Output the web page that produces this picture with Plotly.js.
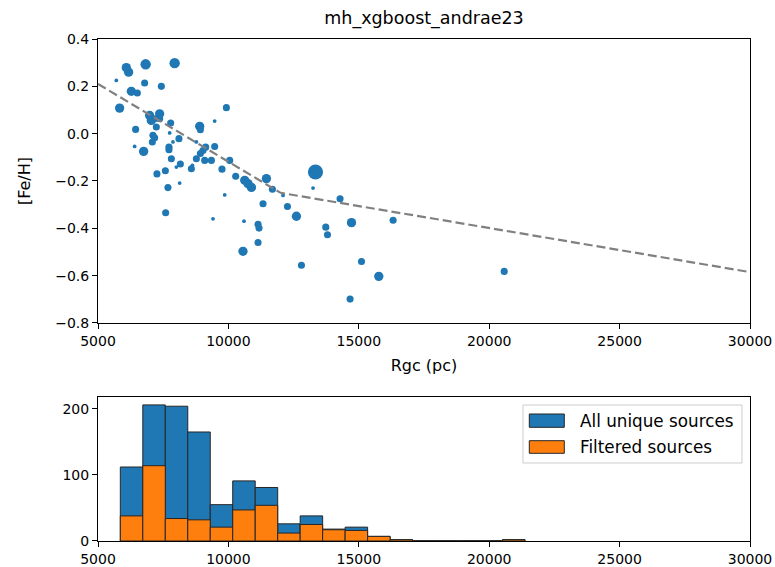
<!DOCTYPE html>
<html>
<head>
<meta charset="utf-8">
<script src="https://cdn.plot.ly/plotly-3.0.1.min.js"></script>
<style>html,body{margin:0;padding:0;background:#fff;}#chart{width:775px;height:567px;}</style>
</head>
<body>
<div id="chart"></div>
<script>
// ---- scatter data (Rgc in pc, [Fe/H], relative weight) ----
const rgc = [5702, 6086, 6174, 6827, 7939, 6788, 7429, 6278, 6508, 5829,
             9923, 7364, 6980, 7172, 7045, 7364, 7237, 7786, 8899, 8926,
             9474, 6443, 7748, 7107, 7172, 7084, 8104, 7874, 6404, 7721,
             7721, 8772, 6750, 9129, 9474, 8926, 9025, 7813, 8772, 9091,
             9348, 8158, 8005, 8580, 8619, 7583, 7260, 9754, 10050, 10280,
             10626, 10752, 10883, 11458, 11688, 7682, 8131, 9858, 11328, 12264,
             12095, 7594, 9409, 10599, 11136, 11174, 11136, 10560, 13339, 13246,
             12609, 14282, 14720, 13734, 13799, 16316, 12801, 15104, 15767, 14666,
             20576];
const feh = [0.225, 0.279, 0.260, 0.293, 0.298, 0.214, 0.200, 0.179, 0.172, 0.108,
             0.110, 0.084, 0.077, 0.063, 0.056, 0.063, 0.028, 0.045, 0.031, 0.017,
             0.053, 0.018, 0.003, -0.007, -0.017, -0.035, -0.021, -0.035, -0.054, -0.057,
             -0.068, -0.035, -0.075, -0.057, -0.054, -0.084, -0.071, -0.106, -0.106, -0.113,
             -0.113, -0.128, -0.141, -0.148, -0.134, -0.157, -0.170, -0.150, -0.113, -0.180,
             -0.197, -0.211, -0.227, -0.190, -0.235, -0.228, -0.209, -0.259, -0.296, -0.308,
             -0.261, -0.334, -0.360, -0.370, -0.383, -0.399, -0.460, -0.497, -0.162, -0.230,
             -0.349, -0.275, -0.376, -0.395, -0.427, -0.366, -0.556, -0.540, -0.603, -0.699,
             -0.582];
const weight = [1, 6, 6, 7.5, 7.5, 3.5, 3.5, 6, 3.5, 6,
                3.5, 6, 6, 3.5, 6, 3.5, 3.5, 3.5, 6, 3.5,
                1, 3.5, 1, 3.5, 3.5, 3.5, 3.5, 1, 1, 3.5,
                3.5, 1, 6, 3.5, 3.5, 3.5, 3.5, 3.5, 3.5, 3.5,
                3.5, 3.5, 1, 3.5, 1, 3.5, 3.5, 3.5, 3.5, 3.5,
                6, 6, 6, 6, 3.5, 3.5, 1, 1, 3.5, 3.5,
                1, 3.5, 1, 1, 3.5, 3.5, 3.5, 6, 16, 1,
                6, 3.5, 6, 3.5, 3.5, 3.5, 3.5, 3.5, 6, 3.5,
                3.5];

// ---- broken-line gradient model ----
const modelR = [5000, 12000, 30000];
const modelFeH = [0.21, -0.25, -0.585];

// ---- histogram data ----
const binCenters = [6287, 7149, 8011, 8873, 9735, 10597, 11459, 12321, 13183, 14045,
                    14907, 15769, 16631, 17493, 18355, 19217, 20079, 20941];
const binWidth = 862;
const countAll = [112, 206, 204, 165, 55, 91, 81, 26, 38, 18, 21, 7, 2, 0, 0, 0, 0, 2];
const countFiltered = [38, 114, 34, 32, 21, 47, 54, 12, 25, 17, 16, 7, 2, 0, 0, 0, 0, 2];

const xTicks = [5000, 10000, 15000, 20000, 25000, 30000];
const yTicks = [0.4, 0.2, 0.0, -0.2, -0.4, -0.6, -0.8];
const hTicks = [0, 100, 200];

const legendLabels = ['All unique sources', 'Filtered sources'];

const BLUE = '#1f77b4', ORANGE = '#ff7f0e';
const FONT = 'DejaVu Sans, sans-serif';

const traces = [
  {
    type: 'scatter', mode: 'markers', x: rgc, y: feh, xaxis: 'x', yaxis: 'y',
    marker: {color: BLUE, opacity: 1, size: weight, sizemode: 'area', sizeref: 1/7.2, line: {width: 0}},
    showlegend: false, hoverinfo: 'x+y'
  },
  {
    type: 'scatter', mode: 'lines', x: modelR, y: modelFeH, xaxis: 'x', yaxis: 'y',
    line: {color: '#808080', width: 2.2, dash: '9px,4px'}, showlegend: false
  },
  {
    type: 'bar', x: binCenters, y: countAll, width: binWidth, xaxis: 'x2', yaxis: 'y2',
    marker: {color: BLUE, line: {color: '#262626', width: 1}}, name: legendLabels[0], showlegend: false
  },
  {
    type: 'bar', x: binCenters, y: countFiltered, width: binWidth, xaxis: 'x2', yaxis: 'y2',
    marker: {color: ORANGE, line: {color: '#262626', width: 1}}, name: legendLabels[1], showlegend: false
  }
];

const axCommon = {
  showline: true, linecolor: '#000', linewidth: 1, mirror: true,
  ticks: 'outside', ticklen: 5, tickwidth: 1, tickcolor: '#000',
  showgrid: false, zeroline: false,
  tickfont: {family: FONT, size: 14, color: '#000'}
};

const layout = {
  width: 775, height: 567,
  margin: {l: 98, r: 25, t: 39, b: 26},
  paper_bgcolor: '#fff', plot_bgcolor: '#fff',
  barmode: 'overlay', bargap: 0,
  font: {family: FONT, color: '#000'},
  title: {text: 'mh_xgboost_andrae23', font: {family: FONT, size: 17.5, color: '#000'},
          x: 0.5471, xanchor: 'center', y: 0.969, yanchor: 'middle'},
  xaxis: Object.assign({}, axCommon, {
    domain: [0, 1], anchor: 'y', range: [5000, 30000], tickvals: xTicks, tickformat: 'd',
    title: {text: 'Rgc (pc)', font: {family: FONT, size: 16, color: '#000'}, standoff: 12}
  }),
  yaxis: Object.assign({}, axCommon, {
    domain: [0.4343, 1], anchor: 'x', range: [-0.8, 0.4], tickvals: yTicks, tickformat: '.1f',
    title: {text: '[Fe/H]', font: {family: FONT, size: 16, color: '#000'}, standoff: 20}
  }),
  xaxis2: Object.assign({}, axCommon, {
    domain: [0, 1], anchor: 'y2', range: [5000, 30000], tickvals: xTicks, tickformat: 'd'
  }),
  yaxis2: Object.assign({}, axCommon, {
    domain: [0, 0.2869], anchor: 'x2', range: [0, 218], tickvals: hTicks, tickformat: 'd'
  }),
  shapes: [
    {type: 'rect', xref: 'paper', yref: 'paper', x0: 0.6518, x1: 0.9877, y0: 0.1554, y1: 0.2709,
     line: {color: '#cccccc', width: 1}, fillcolor: 'rgba(255,255,255,0.8)'},
    {type: 'rect', xref: 'paper', yref: 'paper', x0: 0.6615, x1: 0.7152, y0: 0.2265, y1: 0.2530,
     line: {color: '#262626', width: 1}, fillcolor: BLUE},
    {type: 'rect', xref: 'paper', yref: 'paper', x0: 0.6615, x1: 0.7152, y0: 0.1747, y1: 0.1998,
     line: {color: '#262626', width: 1}, fillcolor: ORANGE}
  ],
  annotations: [
    {xref: 'paper', yref: 'paper', x: 0.7357, y: 0.2400, xanchor: 'left', yanchor: 'middle',
     text: legendLabels[0], showarrow: false, font: {family: FONT, size: 16.8, color: '#000'}},
    {xref: 'paper', yref: 'paper', x: 0.7357, y: 0.1873, xanchor: 'left', yanchor: 'middle',
     text: legendLabels[1], showarrow: false, font: {family: FONT, size: 16.8, color: '#000'}}
  ]
};

Plotly.newPlot('chart', traces, layout, {displayModeBar: false, staticPlot: true});
</script>
</body>
</html>
